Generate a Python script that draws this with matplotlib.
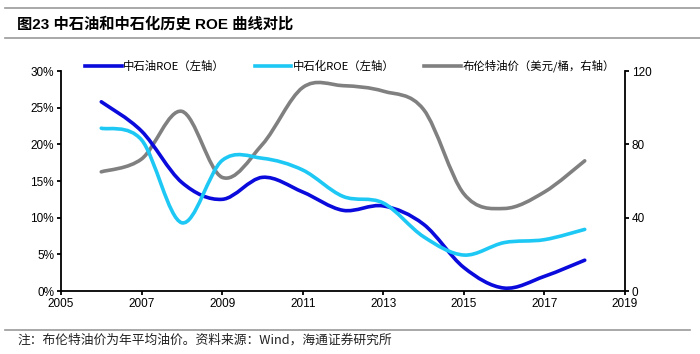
import matplotlib
matplotlib.use("Agg")
import matplotlib.pyplot as plt
from matplotlib.path import Path
from matplotlib.patches import PathPatch
from matplotlib.lines import Line2D
import numpy as np

plt.rcParams['font.family'] = ['Liberation Sans', 'Noto Sans CJK SC', 'DejaVu Sans']

years = [2006, 2007, 2008, 2009, 2010, 2011, 2012, 2013, 2014, 2015, 2016, 2017, 2018]
petrochina_roe = [25.8, 21.8, 14.8, 12.5, 15.5, 13.5, 11.0, 11.6, 9.1, 3.2, 0.4, 2.0, 4.2]
sinopec_roe = [22.2, 20.6, 9.3, 17.8, 18.1, 16.5, 12.9, 12.0, 7.4, 4.9, 6.6, 7.0, 8.4]
brent = [65, 72, 98, 62, 80, 111, 112, 109, 99, 53, 45, 54, 71]

labels = ['中石油ROE（左轴）', '中石化ROE（左轴）', '布伦特油价（美元/桶，右轴）']
colors = ['#0A0ADC', '#1EC8F5', '#808080']
xticks = [2005, 2007, 2009, 2011, 2013, 2015, 2017, 2019]
left_ticks = [0, 5, 10, 15, 20, 25, 30]
right_ticks = [0, 40, 80, 120]


def smooth_path(xs, ys):
    xs = np.asarray(xs, float)
    ys = np.asarray(ys, float)
    px = np.concatenate([[xs[0]], xs, [xs[-1]]])
    py = np.concatenate([[ys[0]], ys, [ys[-1]]])
    verts = [(xs[0], ys[0])]
    codes = [Path.MOVETO]
    for i in range(1, len(px) - 2):
        c1 = (px[i] + (px[i + 1] - px[i - 1]) / 6, py[i] + (py[i + 1] - py[i - 1]) / 6)
        c2 = (px[i + 1] - (px[i + 2] - px[i]) / 6, py[i + 1] - (py[i + 2] - py[i]) / 6)
        verts += [c1, c2, (px[i + 1], py[i + 1])]
        codes += [Path.CURVE4] * 3
    return Path(verts, codes)


fig = plt.figure(figsize=(7.0, 3.54), dpi=100)
ax = fig.add_axes([61 / 700, 1 - 291 / 354, (625 - 61) / 700, (291 - 71) / 354])
ax2 = ax.twinx()

lw = 2.6
for vals, c in [(petrochina_roe, colors[0]), (sinopec_roe, colors[1])]:
    ax.add_patch(PathPatch(smooth_path(years, vals), facecolor='none', edgecolor=c,
                           lw=lw, capstyle='round', joinstyle='round'))
ax2.add_patch(PathPatch(smooth_path(years, brent), facecolor='none', edgecolor=colors[2],
                        lw=lw, capstyle='round', joinstyle='round'))

ax.set_zorder(ax2.get_zorder() + 1)
ax.patch.set_visible(False)

ax.set_xlim(2005, 2019)
ax.set_ylim(0, 30)
ax2.set_ylim(0, 120)
ax.set_xticks(xticks)
ax.set_xticklabels([str(t) for t in xticks])
ax.set_yticks(left_ticks)
ax.set_yticklabels([f'{t}%' for t in left_ticks])
ax2.set_yticks(right_ticks)
ax2.set_yticklabels([str(t) for t in right_ticks])

for a in (ax, ax2):
    for s in a.spines.values():
        s.set_linewidth(1.3)
        s.set_color('black')
    a.spines['top'].set_visible(False)
    a.tick_params(labelsize=8.5, width=1.3, length=3, direction='out', colors='black', pad=2)
ax.spines['right'].set_visible(False)
ax2.spines['left'].set_visible(False)
ax2.spines['bottom'].set_visible(False)

handles = [Line2D([], [], color=c, lw=lw) for c in colors]
fig.legend(handles, labels, loc='center', bbox_to_anchor=(350 / 700, 1 - 66 / 354), ncol=3,
           frameon=False, prop={'family': ['Noto Sans CJK SC'], 'size': 8.2},
           handlelength=3.2, handletextpad=0.15, columnspacing=2.6, borderpad=0)

# title and decorative lines
fig.add_artist(Line2D([5 / 700, 1], [1 - 8 / 354] * 2, color='#999999', lw=1.2))
fig.add_artist(Line2D([5 / 700, 1], [1 - 38 / 354] * 2, color='#999999', lw=1.2))
fig.add_artist(Line2D([5 / 700, 690 / 700], [1 - 330 / 354] * 2, color='#999999', lw=1.2))
fig.text(17 / 700, 1 - 24 / 354, '图23 中石油和中石化历史 ROE 曲线对比', fontsize=11, fontweight='bold',
         family=['Liberation Sans', 'Noto Sans CJK SC'], va='center', ha='left')
fig.text(17 / 700, 1 - 340 / 354, '注：布伦特油价为年平均油价。资料来源：Wind，海通证券研究所', fontsize=9.2,
         family=['Noto Sans CJK SC'], va='center', ha='left', color='#222222')

fig.savefig('out.png', dpi=100)
